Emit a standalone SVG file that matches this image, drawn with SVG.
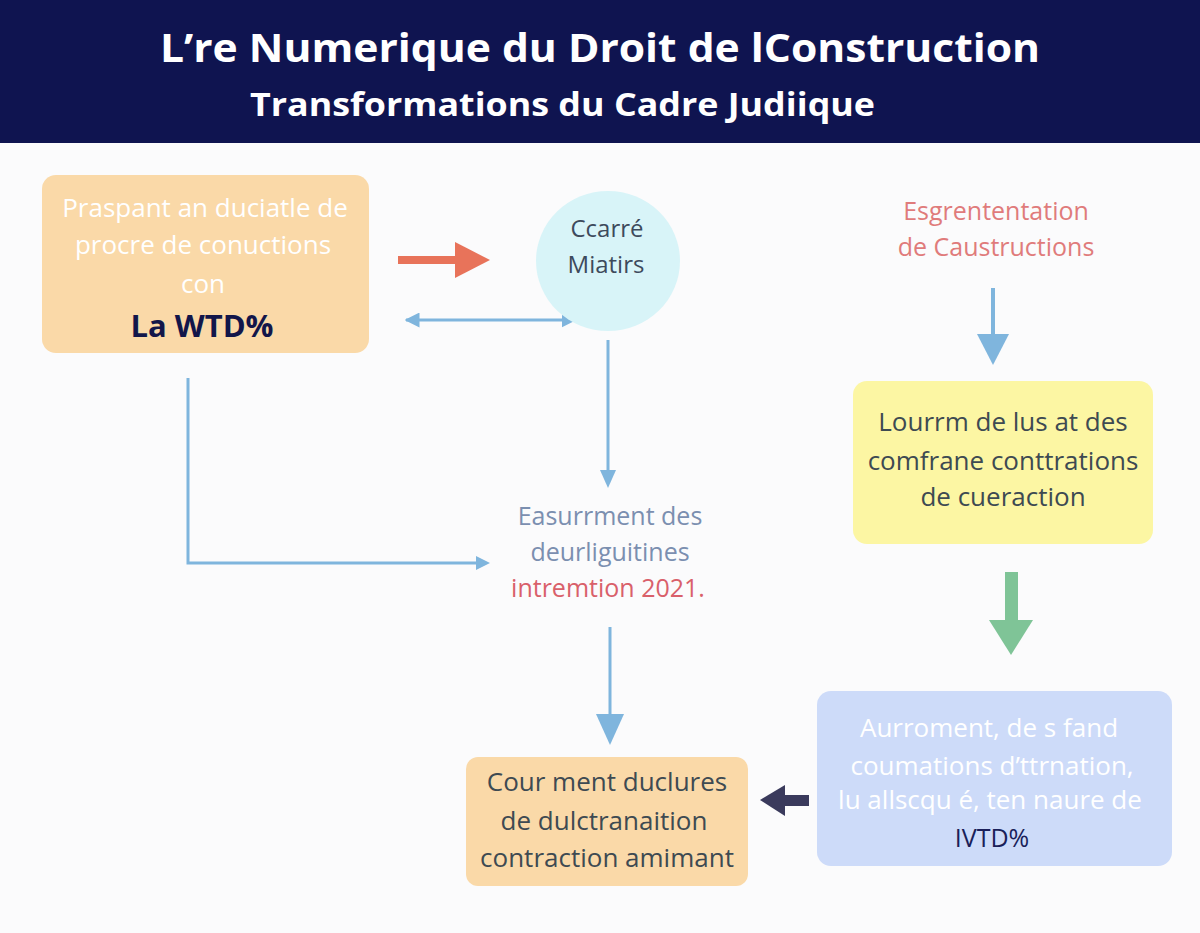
<svg xmlns="http://www.w3.org/2000/svg" width="1200" height="933" viewBox="0 0 1200 933">
<style>
  .t { font-family: "Open Sans", "Liberation Sans", sans-serif; text-anchor: middle; }
  .hdr { font-family: "Open Sans", "Liberation Sans", sans-serif; font-weight: bold; fill: #ffffff; }
  .wt { fill: #ffffff; font-size: 26px; }
  .dk { fill: #3e4a52; font-size: 26px; }
  .nv { fill: #12164a; font-weight: bold; }
  .conn { fill: none; stroke: #7fb5dd; stroke-width: 3; }
</style>
<defs>
  <marker id="ah" viewBox="0 0 10 10" refX="9" refY="5" markerWidth="5" markerHeight="5" orient="auto-start-reverse">
    <path d="M0,0 L10,5 L0,10 z" fill="#7fb5dd"/>
  </marker>
</defs>
<rect width="1200" height="933" fill="#fbfbfc"/>
<g id="header">
  <rect x="0" y="0" width="1200" height="143" fill="#0f1450"/>
  <text class="hdr" x="600" y="62" font-size="40" text-anchor="middle" textLength="880" lengthAdjust="spacingAndGlyphs">L’re Numerique du Droit de lConstruction</text>
  <text class="hdr" x="250" y="116" font-size="32" textLength="625" lengthAdjust="spacingAndGlyphs">Transformations du Cadre Judiique</text>
</g>
<g id="connectors">
  <line x1="398" y1="260" x2="458" y2="260" stroke="#e8735a" stroke-width="8"/>
  <polygon points="455,242 490,260 455,278" fill="#e8735a"/>
  <line x1="406" y1="320" x2="575" y2="320" class="conn" marker-start="url(#ah)" marker-end="url(#ah)"/>
  <line x1="608" y1="340" x2="608" y2="472" class="conn"/>
  <polygon points="600,470 616,470 608,488" fill="#7fb5dd"/>
  <polyline points="188,378 188,563 478,563" class="conn"/>
  <polygon points="476,556 490,563 476,570" fill="#7fb5dd"/>
  <line x1="610" y1="627" x2="610" y2="716" class="conn"/>
  <polygon points="596,714 624,714 610,745" fill="#7fb5dd"/>
  <line x1="993" y1="288" x2="993" y2="336" stroke="#7fb5dd" stroke-width="4"/>
  <polygon points="977,334 1009,334 993,365" fill="#7fb5dd"/>
  <rect x="1005" y="572" width="13" height="50" fill="#7fc497"/>
  <polygon points="989,620 1033,620 1011,655" fill="#7fc497"/>
  <rect x="782" y="795" width="27" height="11" fill="#3a3a5c"/>
  <polygon points="785,785 785,816 760,800" fill="#3a3a5c"/>
</g>
<g id="node-top-left">
  <rect x="42" y="175" width="327" height="178" rx="14" fill="#fad9a8"/>
  <text class="t wt" x="205" y="217">Praspant an duciatle de</text>
  <text class="t wt" x="203" y="254">procre de conuctions</text>
  <text class="t wt" x="203" y="293">con</text>
  <text class="t nv" x="202" y="337" font-size="31">La WTD%</text>
</g>
<g id="node-circle">
  <ellipse cx="608" cy="261" rx="72" ry="70" fill="#d8f4f8"/>
  <text class="t" x="607" y="237" font-size="24" fill="#3d4a5c">Ccarré</text>
  <text class="t" x="606" y="273" font-size="24" fill="#3d4a5c">Miatirs</text>
</g>
<g id="node-middle">
  <text class="t" x="610" y="525" font-size="25" fill="#7b8fb0">Easurrment des</text>
  <text class="t" x="610" y="561" font-size="25" fill="#7b8fb0">deurliguitines</text>
  <text class="t" x="608" y="597" font-size="25" fill="#d9606a">intremtion 2021.</text>
</g>
<g id="node-right-title">
  <text class="t" x="996" y="220" font-size="25" fill="#e07b7b">Esgrententation</text>
  <text class="t" x="996" y="256" font-size="25" fill="#e07b7b">de Caustructions</text>
</g>
<g id="node-yellow">
  <rect x="853" y="381" width="300" height="163" rx="14" fill="#fcf6a3"/>
  <text class="t dk" x="1003" y="431">Lourrm de lus at des</text>
  <text class="t dk" x="1003" y="470">comfrane conttrations</text>
  <text class="t dk" x="1003" y="506">de cueraction</text>
</g>
<g id="node-blue">
  <rect x="817" y="691" width="355" height="175" rx="14" fill="#cddbf9"/>
  <text class="t wt" x="989" y="737">Aurroment, de s fand</text>
  <text class="t wt" x="992" y="775">coumations d’ttrnation,</text>
  <text class="t wt" x="990" y="809">lu allscqu é, ten naure de</text>
  <text class="t" x="992" y="847" font-size="25" fill="#1a1f5a">IVTD%</text>
</g>
<g id="node-bottom">
  <rect x="466" y="757" width="282" height="129" rx="12" fill="#fad9a8"/>
  <text class="t dk" x="607" y="791">Cour ment duclures</text>
  <text class="t dk" x="604" y="830">de dulctranaition</text>
  <text class="t dk" x="607" y="867">contraction amimant</text>
</g>
</svg>
